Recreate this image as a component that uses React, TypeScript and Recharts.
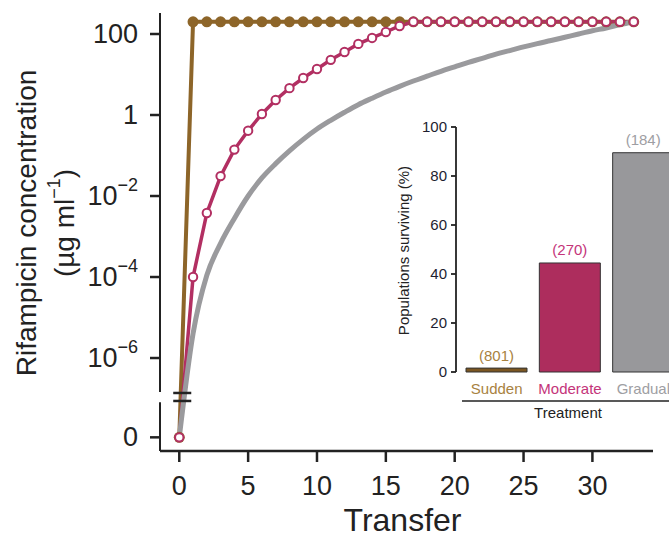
import React from "react";
import {
  LineChart,
  Line,
  XAxis,
  YAxis,
  ReferenceLine,
  ReferenceArea,
  BarChart,
  Bar,
  Cell,
  LabelList,
} from "recharts";

// main panel: rifampicin concentration per transfer (µg/ml)
const TRANSFER = [
  0, 1, 2, 3, 4, 5, 6, 7, 8, 9, 10, 11, 12, 13, 14, 15, 16, 17, 18, 19, 20, 21,
  22, 23, 24, 25, 26, 27, 28, 29, 30, 31, 32, 33,
];
const SUDDEN = [
  0, 200, 200, 200, 200, 200, 200, 200, 200, 200, 200, 200, 200, 200, 200, 200,
  200, 200, 200, 200, 200, 200, 200, 200, 200, 200, 200, 200, 200, 200, 200,
  200, 200, 200,
];
const MODERATE = [
  0, 1e-4, 3.8e-3, 3.1e-2, 0.14, 0.41, 1.06, 2.35, 4.6, 8.2, 13.7, 23, 36, 57,
  80, 112, 158, 200, 200, 200, 200, 200, 200, 200, 200, 200, 200, 200, 200, 200,
  200, 200, 200, 200,
];
const GRADUAL = [
  0, 4e-6, 1.1e-4, 6.8e-4, 2.8e-3, 0.01, 0.028, 0.063, 0.13, 0.25, 0.45,
  0.74, 1.17, 1.8, 2.6, 3.7, 5.1, 6.9, 9.1, 12, 15.5, 20, 25, 32, 39, 48, 58, 69,
  83, 100, 120, 141, 170, 200,
];

// inset: % of populations surviving, (n) above each bar
const TREATMENTS = ["Sudden", "Moderate", "Gradual"];
const SURVIVING = [1.6, 44.5, 89.5];
const N_POPS = [801, 270, 184];

const Y_TICKS_LOG = [1e-6, 1e-4, 1e-2, 1, 100];
const X_TICKS = [0, 5, 10, 15, 20, 25, 30];
const INSET_TICKS = [0, 20, 40, 60, 80, 100];

// "0" sits below the axis break, drawn at a stand-in value on the log scale
const ZERO = 1.1e-8;
const Y_MIN = 5.06e-9;
const Y_MAX = 330;
const X_MIN = -1.4;
const X_MAX = 34.4;
const BREAK_HI = 1.37e-7;
const BREAK_LO = 8.7e-8;

const BROWN = "#8d6529";
const MAGENTA = "#b22f62";
const GRAY = "#9a9a9d";
const INK = "#222";

const BAR_FILL = ["#7b5622", "#ad2d5d", "#98989b"];
const LABEL_FILL = ["#a8823f", "#c4347a", "#9e9ea3"];

const lineData = TRANSFER.map((t, i) => ({
  t,
  sudden: SUDDEN[i] === 0 ? ZERO : SUDDEN[i],
  moderate: MODERATE[i] === 0 ? ZERO : MODERATE[i],
  gradual: GRADUAL[i] === 0 ? ZERO : GRADUAL[i],
}));

const barData = TREATMENTS.map((name, i) => ({
  name,
  pct: SURVIVING[i],
  n: N_POPS[i],
}));

function LogTick(props: any) {
  const { x, y, payload } = props;
  const v = payload.value;
  let body: React.ReactNode;
  if (v === ZERO) body = "0";
  else if (v >= 1) body = String(v);
  else {
    const exp = Math.round(Math.log10(v));
    body = (
      <>
        10
        <tspan dy={-11} fontSize={18}>
          {"\u2212" + -exp}
        </tspan>
      </>
    );
  }
  return (
    <text x={x} y={y} textAnchor="end" dominantBaseline="central" fontSize={27} fill={INK}>
      {body}
    </text>
  );
}

function TransferTick(props: any) {
  const { x, y, payload } = props;
  return (
    <text x={x} y={y + 22} textAnchor="middle" dominantBaseline="central" fontSize={27} fill={INK}>
      {payload.value}
    </text>
  );
}

function YTitle(props: any) {
  const vb = props.viewBox || { x: 0, y: 13, width: 160, height: 438 };
  const cy = vb.y + vb.height / 2 - 9;
  return (
    <g fill={INK} fontSize={28}>
      <text x={vb.x + 26} y={cy} textAnchor="middle" dominantBaseline="central" transform={`rotate(-90 ${vb.x + 26} ${cy})`}>
        Rifampicin concentration
      </text>
      <text x={vb.x + 64} y={cy} textAnchor="middle" dominantBaseline="central" transform={`rotate(-90 ${vb.x + 64} ${cy})`}>
        (µg ml
        <tspan dy={-10} fontSize={18}>
          −1
        </tspan>
        <tspan dy={10}>)</tspan>
      </text>
    </g>
  );
}

function XTitle(props: any) {
  const vb = props.viewBox || { x: 160, y: 451, width: 493, height: 88 };
  return (
    <text x={vb.x + vb.width / 2 - 4} y={vb.y + 69} textAnchor="middle" dominantBaseline="central" fontSize={32} fill={INK}>
      Transfer
    </text>
  );
}

function TreatmentTick(props: any) {
  const { x, y, payload, index } = props;
  return (
    <text x={x} y={y + 16} textAnchor="middle" dominantBaseline="central" fontSize={15} fill={LABEL_FILL[index]}>
      {payload.value}
    </text>
  );
}

function TreatmentTitle(props: any) {
  const vb = props.viewBox || { x: 76, y: 262, width: 224, height: 58 };
  return (
    <g>
      <line x1={vb.x + 6} x2={vb.x + vb.width + 20} y1={vb.y + 29} y2={vb.y + 29} stroke={INK} strokeWidth={1.5} />
      <text x={vb.x + vb.width / 2} y={vb.y + 40} textAnchor="middle" dominantBaseline="central" fontSize={15} fill={INK}>
        Treatment
      </text>
    </g>
  );
}

function SurvivalTitle(props: any) {
  const vb = props.viewBox || { x: 0, y: 17, width: 76, height: 245 };
  const cx = vb.x + 23;
  const cy = vb.y + vb.height / 2 + 1;
  return (
    <text x={cx} y={cy} textAnchor="middle" dominantBaseline="central" fontSize={15} fill={INK} transform={`rotate(-90 ${cx} ${cy})`}>
      Populations surviving (%)
    </text>
  );
}

function CountLabel(props: any) {
  const { x, y, width, index, value } = props;
  return (
    <text x={x + width / 2} y={y - 13} textAnchor="middle" dominantBaseline="central" fontSize={15} fill={LABEL_FILL[index]}>
      ({value})
    </text>
  );
}

export default function App() {
  return (
    <div
      style={{
        position: "absolute",
        left: 0,
        top: 0,
        width: 669,
        height: 539,
        overflow: "hidden",
        background: "#fff",
        fontFamily: "'Liberation Sans', Arial, Helvetica, sans-serif",
      }}
    >
      <div style={{ position: "absolute", left: 0, top: 0 }}>
        <LineChart width={669} height={539} data={lineData} margin={{ top: 13, right: 16, bottom: 0, left: 0 }}>
          <XAxis
            dataKey="t"
            type="number"
            domain={[X_MIN, X_MAX]}
            ticks={X_TICKS}
            allowDataOverflow
            height={88}
            tick={<TransferTick />}
            tickSize={11}
            tickLine={{ stroke: INK, strokeWidth: 2.5 }}
            axisLine={{ stroke: INK, strokeWidth: 2.5 }}
            label={<XTitle />}
          />
          <YAxis
            scale="log"
            type="number"
            domain={[Y_MIN, Y_MAX]}
            ticks={[ZERO, ...Y_TICKS_LOG]}
            allowDataOverflow
            width={160}
            tick={<LogTick />}
            tickSize={10}
            tickMargin={12}
            tickLine={{ stroke: INK, strokeWidth: 2.5 }}
            axisLine={false}
            label={<YTitle />}
          />
          {/* broken y axis: upper log part and the short piece holding 0 */}
          <ReferenceLine
            segment={[{ x: X_MIN, y: Y_MAX }, { x: X_MIN, y: 1.45e-7 }]}
            stroke={INK}
            strokeWidth={2}
            ifOverflow="visible"
          />
          <ReferenceLine
            segment={[{ x: X_MIN, y: 8.1e-8 }, { x: X_MIN, y: Y_MIN }]}
            stroke={INK}
            strokeWidth={2}
            ifOverflow="visible"
          />
          <Line
            dataKey="sudden"
            stroke={BROWN}
            strokeWidth={4}
            dot={{ r: 5.5, fill: BROWN, stroke: BROWN, strokeWidth: 0 }}
            activeDot={false}
            isAnimationActive={false}
          />
          <Line
            dataKey="moderate"
            stroke={MAGENTA}
            strokeWidth={3.5}
            dot={{ r: 4.2, fill: "#fff", stroke: MAGENTA, strokeWidth: 2 }}
            activeDot={false}
            isAnimationActive={false}
          />
          <Line
            type="monotone"
            dataKey="gradual"
            stroke={GRAY}
            strokeWidth={5}
            dot={false}
            activeDot={false}
            isAnimationActive={false}
          />
          <ReferenceArea
            x1={-0.44}
            x2={0.87}
            y1={BREAK_LO}
            y2={BREAK_HI}
            fill="#fff"
            fillOpacity={1}
            stroke="none"
            ifOverflow="visible"
          />
          <ReferenceLine
            segment={[{ x: -0.44, y: BREAK_HI }, { x: 0.87, y: BREAK_HI }]}
            stroke={INK}
            strokeWidth={2.5}
            ifOverflow="visible"
          />
          <ReferenceLine
            segment={[{ x: -0.44, y: BREAK_LO }, { x: 0.87, y: BREAK_LO }]}
            stroke={INK}
            strokeWidth={2.5}
            ifOverflow="visible"
          />
        </LineChart>
      </div>

      <div style={{ position: "absolute", left: 380, top: 110 }}>
        <BarChart width={300} height={320} data={barData} margin={{ top: 17, right: 0, bottom: 0, left: 0 }}>
          <XAxis
            dataKey="name"
            height={58}
            padding={{ left: 4, right: 0 }}
            axisLine={false}
            tickLine={false}
            tickSize={0}
            tickMargin={0}
            interval={0}
            tick={<TreatmentTick />}
            label={<TreatmentTitle />}
          />
          <YAxis
            type="number"
            domain={[0, 100]}
            ticks={INSET_TICKS}
            width={76}
            tickSize={5}
            tickMargin={4}
            tick={{ fontSize: 15, fill: "#1e1e30" }}
            tickLine={{ stroke: INK, strokeWidth: 1.8 }}
            axisLine={{ stroke: INK, strokeWidth: 1.8 }}
            label={<SurvivalTitle />}
          />
          <Bar dataKey="pct" barSize={61} stroke="#333" strokeWidth={1} isAnimationActive={false}>
            {barData.map((d, i) => (
              <Cell key={d.name} fill={BAR_FILL[i]} />
            ))}
            <LabelList dataKey="n" content={<CountLabel />} />
          </Bar>
        </BarChart>
      </div>
    </div>
  );
}
